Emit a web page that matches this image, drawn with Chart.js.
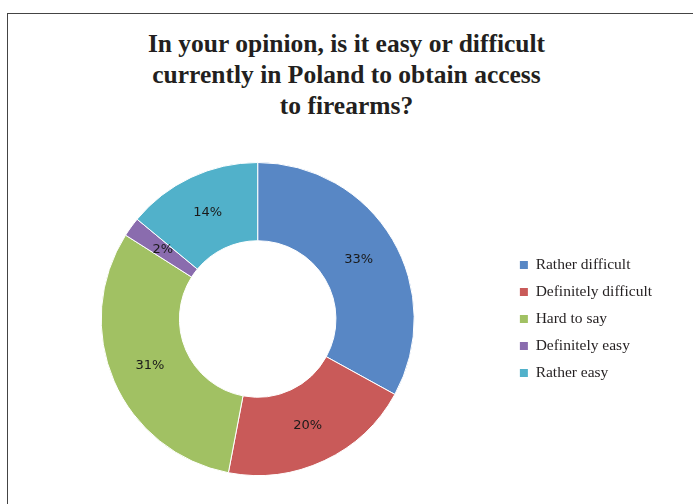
<!DOCTYPE html>
<html>
<head>
<meta charset="utf-8">
<script src="https://cdn.jsdelivr.net/npm/chart.js@4/dist/chart.umd.min.js"></script>
<style>
  html, body { margin: 0; padding: 0; background: #fff; }
  body { width: 693px; height: 504px; position: relative; overflow: hidden; }
  #frame {
    position: absolute; left: 7px; top: 13px; width: 800px; height: 600px;
    border-top: 1px solid #444; border-left: 1px solid #444;
  }
  #title {
    position: absolute; left: 0; top: 28px; width: 693px; text-align: center;
    font-family: "Liberation Serif", serif; font-weight: bold; font-size: 25.5px;
    line-height: 31px; color: #231f20;
  }
  #myChart { position: absolute; left: 0; top: 0; }
</style>
</head>
<body>
<div id="frame"></div>
<div id="title">In your opinion, is it easy or difficult<br>currently in Poland to obtain access<br>to firearms?</div>
<canvas id="myChart" width="693" height="504"></canvas>
<script>
    const labels = ['Rather difficult', 'Definitely difficult', 'Hard to say', 'Definitely easy', 'Rather easy']
    const shares = [33, 20, 31, 2, 14]
    const colors = ['#5887C5', '#C95A59', '#A1C163', '#8A6CAE', '#51B1CA']

    // percent labels in the middle of each slice
    const sliceLabels = {
      id: 'sliceLabels',
      afterDatasetsDraw(chart) {
        const ctx = chart.ctx
        const meta = chart.getDatasetMeta(0)
        ctx.save()
        ctx.font = '13px "DejaVu Sans", sans-serif'
        ctx.fillStyle = '#1a1a1a'
        ctx.textAlign = 'center'
        ctx.textBaseline = 'middle'
        meta.data.forEach(function (arc, i) {
          const p = arc.tooltipPosition()
          ctx.fillText(shares[i] + '%', p.x, p.y)
        })
        ctx.restore()
      }
    }

    const datachart = {
      labels: labels,
      datasets: [{
        data: shares,
        backgroundColor: colors,
        borderColor: '#fff',
        borderWidth: 1
      }]
    }

    const config = {
      type: 'doughnut',
      data: datachart,
      options: {
        responsive: false,
        animation: false,
        cutout: '50%',
        layout: {
          padding: { top: 162, bottom: 28, left: 7, right: 31 }
        },
        plugins: {
          tooltip: { enabled: false },
          legend: {
            position: 'right',
            labels: {
              boxWidth: 8,
              boxHeight: 8,
              padding: 11.5,
              color: '#231f20',
              font: { family: '"Liberation Serif", serif', size: 15.5 },
              generateLabels(chart) {
                const items = Chart.overrides.doughnut.plugins.legend.labels.generateLabels(chart)
                items.forEach(function (it) { it.strokeStyle = it.fillStyle; it.lineWidth = 0 })
                return items
              }
            }
          }
        }
      },
      plugins: [sliceLabels]
    }

    const myChart = new Chart(document.getElementById('myChart'), config)
</script>
</body>
</html>
